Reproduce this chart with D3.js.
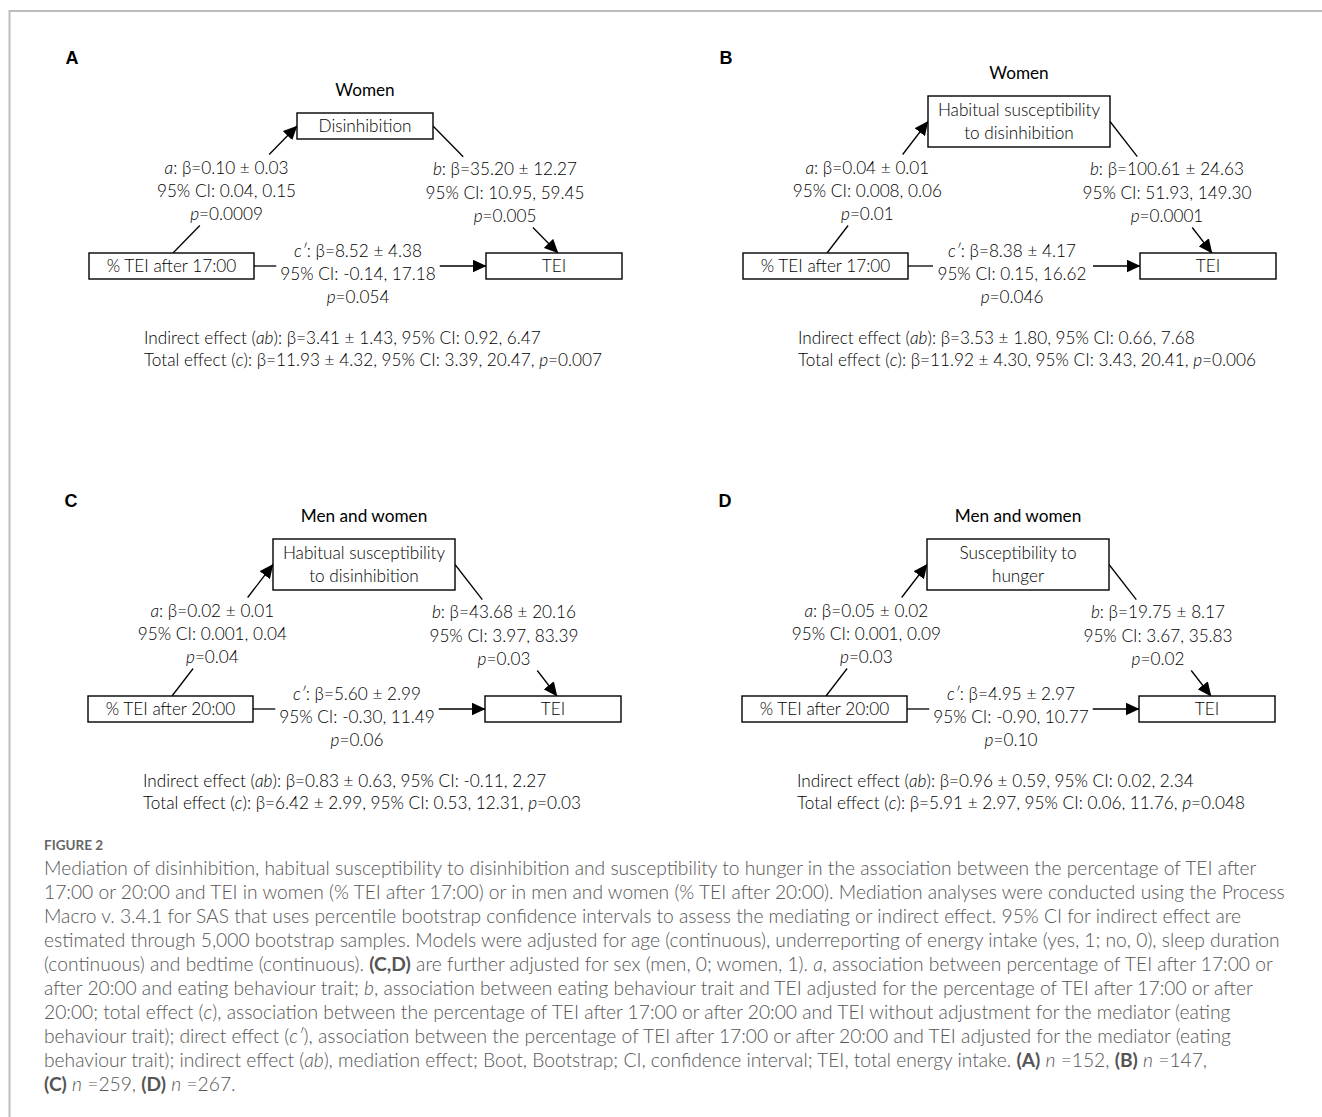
<!DOCTYPE html>
<html><head><meta charset="utf-8">
<script src="https://cdn.jsdelivr.net/npm/d3@7/dist/d3.min.js"></script>
<style>body{margin:0;background:#fff}svg{display:block}</style>
</head><body>
<script>
// ---------------- data ----------------
const panelLabels = ["A", "B", "C", "D"];
const groups = ["Women", "Women", "Men and women", "Men and women"];
const mediators = [
  ["Disinhibition"],
  ["Habitual susceptibility", "to disinhibition"],
  ["Habitual susceptibility", "to disinhibition"],
  ["Susceptibility to", "hunger"]
];
const predictors = ["% TEI after 17:00", "% TEI after 17:00", "% TEI after 20:00", "% TEI after 20:00"];
const outcome = "TEI";

const aBeta = ["0.10", "0.04", "0.02", "0.05"];
const aSE   = ["0.03", "0.01", "0.01", "0.02"];
const aCI   = [["0.04", "0.15"], ["0.008", "0.06"], ["0.001", "0.04"], ["0.001", "0.09"]];
const aP    = ["0.0009", "0.01", "0.04", "0.03"];

const bBeta = ["35.20", "100.61", "43.68", "19.75"];
const bSE   = ["12.27", "24.63", "20.16", "8.17"];
const bCI   = [["10.95", "59.45"], ["51.93", "149.30"], ["3.97", "83.39"], ["3.67", "35.83"]];
const bP    = ["0.005", "0.0001", "0.03", "0.02"];

const cpBeta = ["8.52", "8.38", "5.60", "4.95"];
const cpSE   = ["4.38", "4.17", "2.99", "2.97"];
const cpCI   = [["-0.14", "17.18"], ["0.15", "16.62"], ["-0.30", "11.49"], ["-0.90", "10.77"]];
const cpP    = ["0.054", "0.046", "0.06", "0.10"];

const abBeta = ["3.41", "3.53", "0.83", "0.96"];
const abSE   = ["1.43", "1.80", "0.63", "0.59"];
const abCI   = [["0.92", "6.47"], ["0.66", "7.68"], ["-0.11", "2.27"], ["0.02", "2.34"]];

const cBeta = ["11.93", "11.92", "6.42", "5.91"];
const cSE   = ["4.32", "4.30", "2.99", "2.97"];
const cCI   = [["3.39", "20.47"], ["3.43", "20.41"], ["0.53", "12.31"], ["0.06", "11.76"]];
const cP    = ["0.007", "0.006", "0.03", "0.048"];

const figureLabel = "FIGURE 2";
const captionLines = [
  "Mediation of disinhibition, habitual susceptibility to disinhibition and susceptibility to hunger in the association between the percentage of TEI after",
  "17:00 or 20:00 and TEI in women (% TEI after 17:00) or in men and women (% TEI after 20:00). Mediation analyses were conducted using the Process",
  "Macro v. 3.4.1 for SAS that uses percentile bootstrap confidence intervals to assess the mediating or indirect effect. 95% CI for indirect effect are",
  "estimated through 5,000 bootstrap samples. Models were adjusted for age (continuous), underreporting of energy intake (yes, 1; no, 0), sleep duration",
  "(continuous) and bedtime (continuous). **(C,D)** are further adjusted for sex (men, 0; women, 1). *a*, association between percentage of TEI after 17:00 or",
  "after 20:00 and eating behaviour trait; *b*, association between eating behaviour trait and TEI adjusted for the percentage of TEI after 17:00 or after",
  "20:00; total effect (*c*), association between the percentage of TEI after 17:00 or after 20:00 and TEI without adjustment for the mediator (eating",
  "behaviour trait); direct effect (*c′*), association between the percentage of TEI after 17:00 or after 20:00 and TEI adjusted for the mediator (eating",
  "behaviour trait); indirect effect (*ab*), mediation effect; Boot, Bootstrap; CI, confidence interval; TEI, total energy intake. **(A)** *n* =152, **(B)** *n* =147,",
  "**(C)** *n* =259, **(D)** *n* =267."
];

// ---------------- layout ----------------
const W = 1322, H = 1117;
const FONT = "Lato, 'Open Sans', sans-serif";
const origins = [[89, 253], [743, 253], [88, 696], [742, 696]];
const bTextShift = [0, 8, 0, 0];

const svg = d3.select("body").append("svg").attr("width", W).attr("height", H);
const defs = svg.append("defs");
defs.append("marker").attr("id", "arr")
  .attr("viewBox", "0 0 14 13").attr("refX", 13.5).attr("refY", 6.5)
  .attr("markerWidth", 14).attr("markerHeight", 13)
  .attr("markerUnits", "userSpaceOnUse").attr("orient", "auto")
  .append("path").attr("d", "M0,0L14,6.5L0,13Z").attr("fill", "#000");

function rich(sel, str) {
  str.split(/(\*\*[^*]+\*\*|\*[^*]+\*)/).filter(s => s.length).forEach(p => {
    const t = sel.append("tspan");
    if (p.startsWith("**")) t.attr("font-weight", 700).text(p.slice(2, -2));
    else if (p.startsWith("*")) t.attr("font-style", "italic").text(p.slice(1, -1));
    else t.text(p);
  });
  return sel;
}

// fit a font size so a sample string reaches a target width
function fitSize(str, weight, base, target) {
  const t = svg.append("text").attr("font-family", FONT).attr("font-size", base).attr("font-weight", weight);
  rich(t, str);
  const w = t.node().getComputedTextLength();
  t.remove();
  return base * target / w;
}
const totalA = `Total effect (*c*): β=${cBeta[0]} ± ${cSE[0]}, 95% CI: ${cCI[0][0]}, ${cCI[0][1]}, *p*=${cP[0]}`;
const FS = fitSize(totalA, 300, 16, 458);
const CAPFS = fitSize(captionLines[0], 300, 17, 1213);

// frame
svg.append("path").attr("d", `M9.5,${H}V11H${W}`).attr("fill", "none")
  .attr("stroke", "#bdbdbd").attr("stroke-width", 2);

function textAt(g, x, yc, str, anchor, opts = {}) {
  const size = opts.size || FS;
  const t = g.append("text").attr("x", x).attr("y", yc + size * 0.36)
    .attr("text-anchor", anchor || "middle")
    .attr("font-family", FONT).attr("font-size", size)
    .attr("font-weight", opts.weight || 300)
    .attr("fill", opts.fill || "#000");
  return rich(t, str);
}

function box(g, r) {
  g.append("rect").attr("x", r.x).attr("y", r.y).attr("width", r.w).attr("height", r.h)
    .attr("fill", "#fff").attr("stroke", "#000").attr("stroke-width", 1.4);
}

function seg(g, p0, p1, arrow) {
  const l = g.append("line").attr("x1", p0[0]).attr("y1", p0[1]).attr("x2", p1[0]).attr("y2", p1[1])
    .attr("stroke", "#000").attr("stroke-width", 1.3);
  if (arrow) l.attr("marker-end", "url(#arr)");
}

panelLabels.forEach((lab, i) => {
  const g = svg.append("g").attr("transform", `translate(${origins[i][0]},${origins[i][1]})`);
  const pred = { x: 0, y: 0, w: 165, h: 26 };
  const out = { x: 397, y: 0, w: 136, h: 26 };
  const two = mediators[i].length > 1;
  const med = two ? { x: 185, y: -157, w: 182, h: 51 } : { x: 208, y: -140, w: 136, h: 26 };

  // panel letter
  g.append("text").attr("x", -17).attr("y", -196 + 6.5).attr("text-anchor", "middle")
    .attr("font-family", "'Liberation Sans', Arial, sans-serif").attr("font-weight", 700)
    .attr("font-size", 18).text(lab);
  // group title
  textAt(g, med.x + med.w / 2, med.y - 23, groups[i], "middle", { weight: 400 });

  // a path
  const a0 = [84, 0], a1 = [med.x, med.y + med.h / 2];
  const ax = d3.scaleLinear().domain([a0[1], a1[1]]).range([a0[0], a1[0]]);
  seg(g, a0, [ax(-27.5), -27.5]);
  seg(g, [ax(-98.5), -98.5], a1, true);
  const aTx = ax(-63) - 8;
  textAt(g, aTx, -85.5, `*a*: β=${aBeta[i]} ± ${aSE[i]}`);
  textAt(g, aTx, -62.3, `95% CI: ${aCI[i][0]}, ${aCI[i][1]}`);
  textAt(g, aTx, -39.4, `*p*=${aP[i]}`);

  // b path
  const b0 = [med.x + med.w, med.y + med.h / 2], b1 = [469, 0];
  const bx = d3.scaleLinear().domain([b0[1], b1[1]]).range([b0[0], b1[0]]);
  seg(g, b0, [bx(-96.3), -96.3]);
  seg(g, [bx(-25.5), -25.5], b1, true);
  const bTx = 416 + bTextShift[i];
  textAt(g, bTx, -84.2, `*b*: β=${bBeta[i]} ± ${bSE[i]}`);
  textAt(g, bTx, -60.4, `95% CI: ${bCI[i][0]}, ${bCI[i][1]}`);
  textAt(g, bTx, -36.8, `*p*=${bP[i]}`);

  // c' path: text block, then the line with a gap around the text
  const cTx = 269;
  const cLines = [
    textAt(g, cTx, -2.5, `*c′*: β=${cpBeta[i]} ± ${cpSE[i]}`),
    textAt(g, cTx, 20.6, `95% CI: ${cpCI[i][0]}, ${cpCI[i][1]}`),
    textAt(g, cTx, 44, `*p*=${cpP[i]}`)
  ];
  const half = d3.max(cLines, t => t.node().getComputedTextLength()) / 2;
  const cy = pred.h / 2;
  seg(g, [pred.x + pred.w, cy], [Math.min(190, cTx - half - 4), cy]);
  seg(g, [Math.max(350, cTx + half + 4), cy], [out.x, cy], true);

  // boxes
  box(g, pred); box(g, out); box(g, med);
  textAt(g, pred.x + pred.w / 2, pred.y + pred.h / 2, predictors[i]);
  textAt(g, out.x + out.w / 2, out.y + out.h / 2, outcome);
  const mc = med.y + med.h / 2;
  mediators[i].forEach((ln, k) => {
    const off = two ? (k === 0 ? -11.3 : 11.3) : 0;
    textAt(g, med.x + med.w / 2, mc + off, ln);
  });

  // summary
  textAt(g, 55, 84.5, `Indirect effect (*ab*): β=${abBeta[i]} ± ${abSE[i]}, 95% CI: ${abCI[i][0]}, ${abCI[i][1]}`, "start");
  textAt(g, 55, 107, `Total effect (*c*): β=${cBeta[i]} ± ${cSE[i]}, 95% CI: ${cCI[i][0]}, ${cCI[i][1]}, *p*=${cP[i]}`, "start");
});

// caption
const cap = svg.append("g");
cap.append("text").attr("x", 44).attr("y", 850).attr("font-family", FONT)
  .attr("font-weight", 700).attr("font-size", 13.5).attr("fill", "#666").text(figureLabel);
captionLines.forEach((ln, k) => {
  const t = cap.append("text").attr("x", 44).attr("y", 868.2 + CAPFS * 0.36 + k * 23.97)
    .attr("font-family", FONT).attr("font-weight", 300).attr("font-size", CAPFS)
    .attr("fill", "#555");
  rich(t, ln);
});
</script>
</body></html>
